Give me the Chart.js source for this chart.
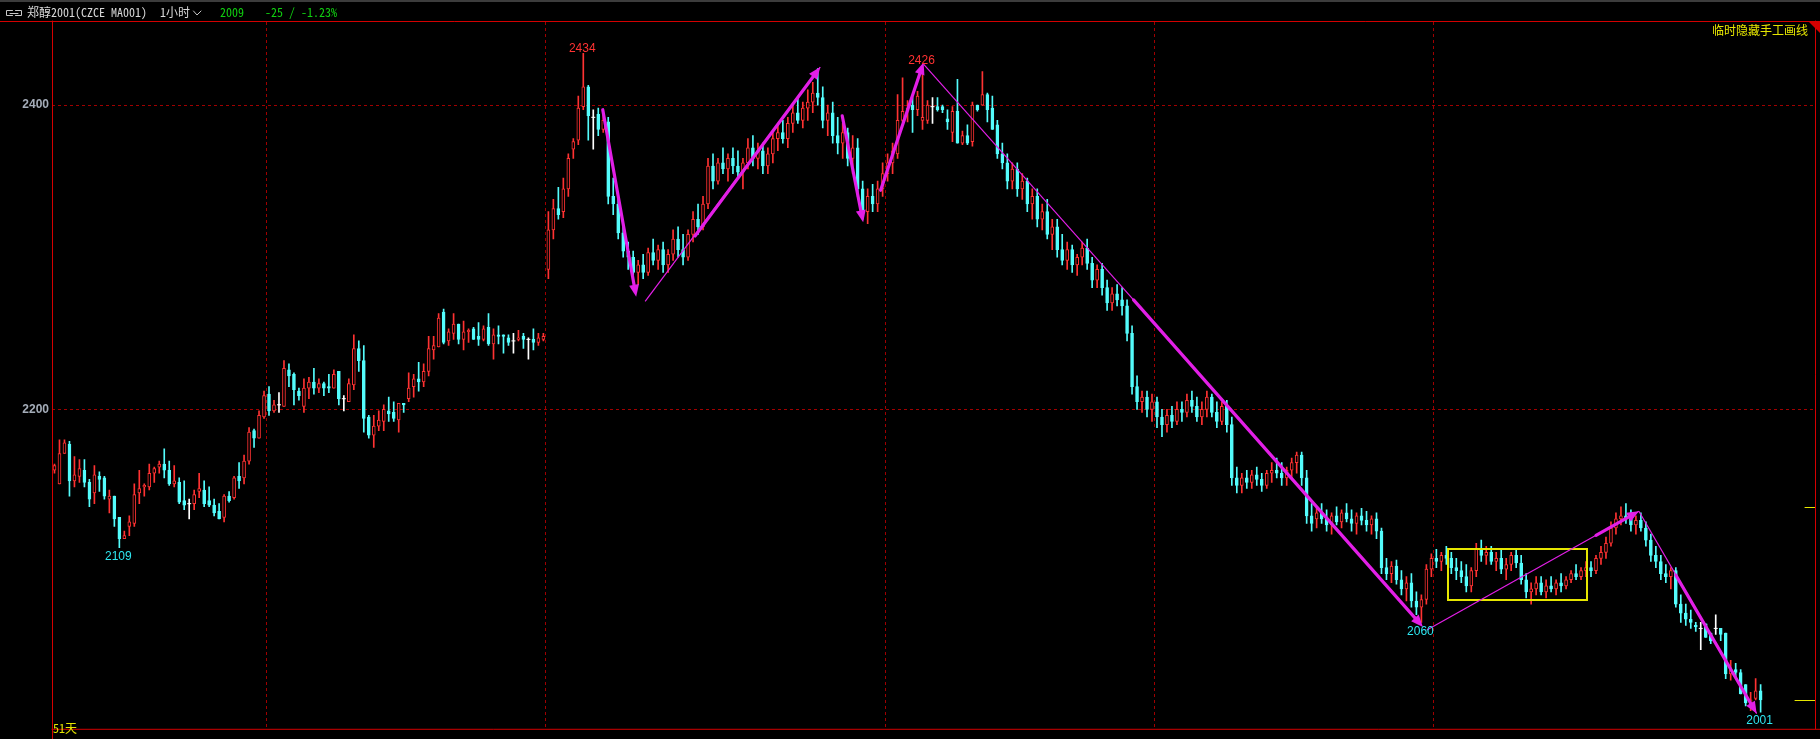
<!DOCTYPE html>
<html><head><meta charset="utf-8">
<script src="https://cdn.jsdelivr.net/npm/chart.js@4.4.0/dist/chart.umd.min.js"></script>
<style>html,body{margin:0;padding:0;background:#000;overflow:hidden}#wrap{position:relative;width:1820px;height:739px}</style>
</head><body><div id="wrap"><canvas id="c" width="1820" height="739"></canvas></div>
<script>
// ---------- data (hourly candles, CZCE MA001) ----------
const open = [
2160,2151,2171,2177,2153,2156,2160,2152,2145,2156, 2155,2141,2143,2129,2115,2123,2125,2145,2149,2149,
2158,2162,2164,2160,2151,2152,2140,2138,2138,2146, 2147,2140,2137,2133,2129,2143,2142,2156,2155,2166,
2186,2181,2195,2210,2199,2203,2202,2226,2223,2212, 2202,2214,2218,2214,2217,2215,2214,2225,2207,2205,
2216,2240,2232,2195,2183,2189,2192,2199,2198,2193, 2204,2207,2215,2220,2218,2225,2239,2241,2264,2245,
2250,2256,2246,2251,2253,2248,2246,2254,2243,2249, 2249,2247,2245,2246,2248,2246,2246,2244,2246,2292,
2318,2332,2330,2345,2371,2377,2399,2412,2392,2394, 2384,2389,2340,2335,2316,2304,2300,2290,2295,2290,
2303,2298,2305,2295,2302,2312,2305,2300,2315,2325, 2320,2335,2360,2350,2362,2358,2365,2360,2356,2362,
2372,2365,2370,2360,2368,2378,2382,2378,2388,2395, 2390,2398,2402,2408,2405,2390,2395,2380,2375,2382,
2365,2372,2345,2330,2340,2335,2345,2355,2362,2368, 2390,2396,2400,2397,2390,2390,2399,2399,2399,2391,
2382,2396,2375,2380,2376,2400,2400,2407,2398,2387, 2368,2362,2350,2358,2345,2350,2335,2340,2325,2330,
2315,2320,2305,2298,2305,2295,2300,2306,2296,2285, 2292,2280,2270,2276,2272,2268,2250,2215,2205,2208,
2200,2205,2195,2190,2196,2192,2200,2198,2206,2202, 2195,2200,2208,2198,2192,2202,2190,2155,2150,2155,
2152,2157,2154,2150,2158,2160,2158,2155,2160,2165, 2170,2155,2130,2128,2132,2128,2124,2130,2126,2132,
2128,2125,2130,2127,2124,2128,2120,2096,2092,2097, 2088,2082,2086,2074,2070,2075,2095,2102,2100,2104,
2102,2096,2094,2090,2084,2094,2108,2104,2106,2100, 2102,2095,2098,2104,2099,2088,2080,2082,2086,2080,
2084,2082,2086,2084,2088,2092,2090,2094,2096,2094, 2102,2106,2112,2122,2128,2130,2128,2124,2127,2122,
2114,2104,2100,2092,2090,2094,2072,2066,2062,2058, 2056,2059,2053,2056,2056,2053,2026,2029,2027,2019,
2005,2010,2015];
const high = [
2164,2180,2180,2179,2169,2167,2167,2154,2163,2159, 2156,2147,2143,2129,2120,2130,2151,2160,2151,2164,
2162,2166,2174,2166,2163,2155,2153,2141,2147,2158, 2153,2149,2141,2138,2144,2146,2156,2165,2170,2188,
2187,2199,2212,2215,2206,2211,2232,2230,2224,2214, 2220,2221,2227,2220,2218,2223,2226,2225,2209,2220,
2249,2245,2242,2196,2196,2199,2203,2208,2205,2204, 2204,2224,2223,2231,2230,2248,2248,2263,2266,2253,
2263,2256,2258,2253,2254,2257,2255,2263,2253,2255, 2249,2249,2250,2252,2250,2247,2253,2250,2250,2330,
2338,2346,2352,2368,2378,2406,2434,2413,2397,2398, 2394,2392,2352,2338,2322,2310,2304,2298,2302,2306,
2312,2308,2310,2305,2318,2320,2315,2318,2330,2335, 2340,2365,2368,2365,2372,2368,2372,2370,2365,2378,
2380,2375,2375,2372,2382,2388,2390,2392,2400,2405, 2402,2410,2415,2424,2412,2400,2402,2392,2388,2385,
2380,2378,2350,2345,2348,2350,2362,2368,2375,2407, 2418,2403,2405,2409,2426,2403,2405,2405,2400,2397,
2399,2417,2383,2387,2402,2400,2422,2408,2406,2390, 2375,2368,2362,2362,2355,2352,2345,2345,2335,2338,
2325,2325,2315,2310,2308,2302,2310,2312,2300,2295, 2296,2285,2280,2282,2280,2272,2255,2222,2212,2212,
2210,2208,2200,2200,2202,2205,2205,2210,2212,2208, 2205,2212,2210,2205,2205,2206,2195,2162,2158,2160,
2160,2162,2158,2160,2165,2168,2165,2162,2168,2172, 2172,2160,2138,2136,2138,2134,2132,2136,2134,2138,
2134,2132,2135,2133,2130,2132,2122,2102,2100,2101, 2094,2090,2092,2080,2078,2098,2105,2108,2106,2110,
2106,2102,2100,2098,2096,2112,2114,2110,2110,2106, 2108,2102,2106,2108,2104,2092,2086,2090,2090,2088,
2090,2088,2092,2090,2094,2098,2096,2100,2100,2104, 2110,2116,2126,2132,2136,2138,2134,2130,2132,2126,
2118,2110,2104,2098,2096,2096,2078,2072,2068,2060, 2060,2059,2053,2065,2056,2053,2035,2033,2029,2019,
2014,2023,2019];
const low = [
2158,2151,2171,2143,2149,2152,2149,2136,2138,2146, 2141,2132,2123,2109,2115,2117,2123,2138,2143,2147,
2152,2158,2155,2150,2149,2138,2134,2128,2134,2142, 2136,2136,2130,2128,2126,2139,2141,2148,2151,2164,
2175,2181,2194,2196,2198,2198,2202,2215,2203,2206, 2198,2207,2210,2211,2209,2211,2214,2203,2199,2205,
2213,2225,2185,2181,2175,2186,2186,2192,2192,2185, 2198,2205,2208,2212,2215,2222,2233,2241,2243,2242,
2246,2243,2239,2244,2246,2242,2245,2242,2233,2243, 2237,2242,2237,2245,2240,2233,2239,2242,2245,2286,
2312,2325,2326,2340,2365,2374,2397,2377,2371,2380, 2382,2335,2328,2312,2300,2292,2285,2282,2286,2288,
2295,2292,2290,2290,2298,2300,2295,2298,2310,2315, 2318,2332,2345,2348,2355,2350,2355,2352,2345,2358,
2360,2358,2355,2355,2362,2370,2375,2372,2382,2388, 2385,2390,2395,2400,2385,2380,2375,2368,2365,2360,
2355,2340,2325,2322,2330,2330,2340,2350,2355,2365, 2389,2389,2382,2393,2384,2388,2388,2396,2395,2384,
2376,2375,2374,2374,2373,2396,2400,2389,2384,2365, 2358,2345,2345,2340,2338,2330,2325,2320,2318,2312,
2305,2300,2295,2292,2290,2288,2295,2292,2280,2280, 2275,2265,2265,2268,2262,2245,2210,2200,2198,2195,
2192,2188,2182,2185,2188,2190,2192,2195,2198,2192, 2190,2195,2195,2188,2190,2185,2150,2145,2145,2148,
2148,2150,2146,2148,2152,2155,2150,2150,2155,2158, 2150,2125,2120,2122,2125,2120,2118,2124,2122,2126,
2120,2118,2124,2120,2118,2115,2092,2088,2086,2085, 2078,2074,2070,2065,2060,2072,2090,2096,2094,2098,
2092,2088,2086,2080,2080,2090,2100,2098,2098,2094, 2092,2088,2094,2096,2085,2076,2072,2078,2078,2076,
2080,2078,2080,2082,2086,2088,2088,2090,2090,2092, 2098,2102,2110,2118,2124,2125,2120,2118,2120,2110,
2100,2096,2088,2086,2082,2070,2060,2058,2056,2054, 2042,2050,2046,2052,2048,2023,2022,2024,2013,2005,
2002,2009,2001];
const close = [
2163,2171,2178,2153,2157,2161,2152,2141,2157,2154, 2143,2143,2128,2115,2117,2126,2144,2148,2150,2158,
2161,2164,2160,2151,2153,2139,2137,2138,2144,2148, 2138,2137,2132,2128,2143,2140,2155,2153,2166,2185,
2181,2196,2209,2199,2203,2203,2227,2222,2213,2209, 2214,2218,2214,2217,2214,2214,2223,2207,2207,2217,
2240,2232,2194,2183,2189,2193,2200,2197,2194,2204, 2203,2214,2220,2218,2225,2240,2242,2260,2244,2251,
2256,2246,2251,2252,2246,2246,2253,2243,2249,2248, 2248,2244,2245,2247,2246,2246,2244,2247,2248,2318,
2332,2328,2345,2365,2376,2398,2412,2393,2392,2384, 2390,2340,2335,2316,2304,2300,2290,2295,2290,2303,
2298,2305,2295,2302,2312,2305,2300,2315,2325,2320, 2335,2360,2350,2362,2358,2365,2360,2356,2362,2372,
2365,2370,2360,2368,2378,2382,2378,2388,2395,2390, 2398,2402,2408,2405,2390,2395,2380,2375,2382,2365,
2372,2345,2330,2340,2335,2345,2355,2362,2370,2390, 2396,2398,2397,2406,2392,2400,2399,2397,2397,2389,
2396,2375,2380,2375,2400,2397,2407,2397,2384,2368, 2362,2350,2358,2345,2350,2335,2340,2325,2330,2315,
2320,2305,2298,2305,2295,2300,2306,2296,2285,2292, 2280,2270,2276,2272,2268,2250,2215,2205,2208,2200,
2205,2195,2190,2196,2192,2200,2198,2206,2202,2195, 2200,2208,2198,2192,2202,2190,2155,2150,2155,2152,
2157,2154,2150,2158,2160,2158,2155,2160,2165,2170, 2155,2130,2125,2132,2128,2124,2130,2126,2132,2128,
2125,2130,2127,2124,2128,2120,2096,2092,2097,2088, 2082,2086,2074,2070,2075,2095,2102,2100,2104,2102,
2096,2094,2090,2084,2094,2108,2104,2106,2100,2102, 2095,2098,2104,2099,2088,2080,2082,2086,2080,2084,
2082,2086,2084,2088,2092,2090,2094,2096,2094,2102, 2106,2112,2122,2128,2130,2128,2124,2127,2122,2114,
2104,2100,2092,2090,2094,2072,2066,2062,2060,2057, 2056,2050,2048,2056,2052,2026,2029,2027,2013,2007,
2009,2015,2009];

const yTicks = [2200, 2400];
const periodStarts = [43, 99, 167, 221, 277];           // first candle of each period (dashed separators)
const highMarks = [106, 174];                            // candles whose high is labelled
const lowMarks = [13, 274, 342];                         // candles whose low is labelled
// hand-drawn lines: [fromIndex, fromPrice, toIndex, toPrice]
const thinLines = [[118.4, 2271, 153.5, 2425], [174.2, 2427, 216.3, 2272], [275.1, 2055, 317.6, 2133], [317.6, 2133, 341.2, 2000]];
const arrows = [[109.9, 2397, 116.6, 2274], [128.4, 2314, 153.5, 2425], [157.9, 2393, 162.1, 2323],
                [165.6, 2344, 174.2, 2428], [216.3, 2272, 274.3, 2057], [309, 2117.2, 317.6, 2133], [325, 2091, 341.2, 2000]];
const boxRange = [279.3, 2108.3, 307.2, 2075];          // [fromIndex, topPrice, toIndex, bottomPrice]
const rightMarks = [2136, 2009];
const titleText = '郑醇2001(CZCE MA001)';
const periodText = '1小时';
const lastText = '2009';
const changeText = '-25 / -1.23%';
const hideText = '临时隐藏手工画线';
const daysText = '51天';

// ---------- drawing ----------
const UP = '#ff3232', DOWN = '#54fcfc', FLAT = '#ffffff', MAG = '#e21fe6', YEL = '#e6e600', AXR = '#d40000', GRID = '#a00000';
const MONO = "'Noto Sans Mono CJK SC','Noto Sans CJK SC',monospace";
const N = close.length;
const idx = [...Array(N).keys()];
const colorOf = i => close[i] > open[i] ? UP : (close[i] < open[i] ? DOWN : FLAT);
const bodies = idx.filter(i => open[i] !== close[i]).map(i => ({x: i, y: [open[i], close[i]]}));
const wicks = idx.map(i => ({x: i, y: [low[i], high[i]]}));
const dojis = idx.filter(i => open[i] === close[i]).map(i => ({x: i, y: open[i]}));

const overlay = {
  id: 'overlay',
  afterDraw(chart) {
    const {ctx, scales: {x, y}, chartArea: a} = chart;
    const X = v => x.getPixelForValue(v), Y = v => y.getPixelForValue(v);
    ctx.save();
    // yellow box
    ctx.strokeStyle = YEL; ctx.lineWidth = 2;
    ctx.strokeRect(Math.round(X(boxRange[0])), Math.round(Y(boxRange[1])), Math.round(X(boxRange[2]) - X(boxRange[0])), Math.round(Y(boxRange[3]) - Y(boxRange[1])));
    // thin lines
    ctx.strokeStyle = MAG; ctx.lineWidth = 1.2;
    thinLines.forEach(([i1, p1, i2, p2]) => { ctx.beginPath(); ctx.moveTo(X(i1), Y(p1)); ctx.lineTo(X(i2), Y(p2)); ctx.stroke(); });
    // arrows
    ctx.fillStyle = MAG; ctx.lineWidth = 3.2; ctx.lineCap = 'round';
    arrows.forEach(([i1, p1, i2, p2]) => {
      const x1 = X(i1), y1 = Y(p1), x2 = X(i2), y2 = Y(p2);
      const ang = Math.atan2(y2 - y1, x2 - x1), L = 12, W = 5;
      const bx = x2 - L * Math.cos(ang), by = y2 - L * Math.sin(ang);
      ctx.beginPath(); ctx.moveTo(x1, y1); ctx.lineTo(bx, by); ctx.stroke();
      ctx.beginPath(); ctx.moveTo(x2, y2);
      ctx.lineTo(bx + W * Math.sin(ang), by - W * Math.cos(ang));
      ctx.lineTo(bx - W * Math.sin(ang), by + W * Math.cos(ang));
      ctx.closePath(); ctx.fill();
    });
    // extreme labels
    ctx.font = "12px 'Liberation Sans',Arial,sans-serif"; ctx.textAlign = 'center';
    ctx.fillStyle = UP; ctx.textBaseline = 'bottom';
    highMarks.forEach(i => ctx.fillText(String(high[i]), X(i) - 1, Y(high[i]) + 1));
    ctx.fillStyle = '#2ee6f0'; ctx.textBaseline = 'top';
    lowMarks.forEach(i => ctx.fillText(String(low[i]), X(i) - 1, Y(low[i]) + 3));
    // right-edge price markers
    ctx.strokeStyle = YEL; ctx.lineWidth = 1;
    rightMarks.forEach((p, k) => { const yy = Math.round(Y(p)) + 0.5; ctx.beginPath(); ctx.moveTo(a.right - (k === 0 ? 10 : 20), yy); ctx.lineTo(a.right, yy); ctx.stroke(); });
    // frame
    ctx.strokeStyle = AXR; ctx.lineWidth = 1;
    ctx.beginPath();
    ctx.moveTo(0, 21.5); ctx.lineTo(1820, 21.5);
    ctx.moveTo(a.left + 0.5, 21); ctx.lineTo(a.left + 0.5, 739);
    ctx.moveTo(a.left, a.bottom + 0.5); ctx.lineTo(1820, a.bottom + 0.5);
    ctx.moveTo(a.right + 0.5, 21); ctx.lineTo(a.right + 0.5, a.bottom);
    ctx.stroke();
    ctx.fillStyle = AXR; ctx.beginPath(); ctx.moveTo(1809, 22); ctx.lineTo(1820, 22); ctx.lineTo(1820, 33); ctx.closePath(); ctx.fill();
    // header
    ctx.fillStyle = '#3c3c3c'; ctx.fillRect(0, 0, 1820, 2);
    ctx.strokeStyle = '#c8c8c8'; ctx.lineWidth = 1;
    ctx.beginPath();
    ctx.moveTo(12.5, 10.5); ctx.lineTo(6.5, 10.5); ctx.lineTo(6.5, 15.5); ctx.lineTo(12.5, 15.5);
    ctx.moveTo(15.5, 10.5); ctx.lineTo(21.5, 10.5); ctx.lineTo(21.5, 15.5); ctx.lineTo(15.5, 15.5);
    ctx.moveTo(10, 13.5); ctx.lineTo(18, 13.5);
    ctx.moveTo(193.5, 11); ctx.lineTo(197, 15); ctx.lineTo(201, 11);
    ctx.stroke();
    ctx.font = '12px ' + MONO; ctx.textAlign = 'left'; ctx.textBaseline = 'alphabetic';
    ctx.fillStyle = '#d8d8d8';
    ctx.fillText(titleText, 27, 17);
    ctx.fillText(periodText, 160, 17);
    ctx.fillStyle = '#10d010';
    ctx.fillText(lastText, 220, 17);
    ctx.fillText(changeText, 265, 17);
    ctx.fillStyle = YEL;
    ctx.textAlign = 'right'; ctx.fillText(hideText, 1808, 35);
    ctx.textAlign = 'left'; ctx.fillText(daysText, 53, 733);
    ctx.restore();
  }
};

new Chart(document.getElementById('c'), {
  type: 'bar',
  data: {
    datasets: [
      { data: bodies, grouped: false, order: 0, barThickness: 3, borderWidth: 1, borderSkipped: false,
        backgroundColor: c => (c.raw && c.raw.y[1] > c.raw.y[0]) ? '#000000' : DOWN,
        borderColor: c => (c.raw && c.raw.y[1] > c.raw.y[0]) ? UP : DOWN },
      { data: wicks, grouped: false, order: 1, barThickness: 1, borderWidth: 0,
        backgroundColor: c => colorOf(c.raw ? c.raw.x : 0) },
      { type: 'scatter', data: dojis, order: -1, pointStyle: 'line', pointRadius: 2, borderColor: FLAT, borderWidth: 1, backgroundColor: FLAT }
    ]
  },
  options: {
    responsive: false, animation: false, devicePixelRatio: 1, events: [],
    layout: { padding: { left: 0, right: 1, top: 22, bottom: 3 } },
    plugins: { legend: { display: false }, tooltip: { enabled: false } },
    scales: {
      x: { type: 'linear', min: -0.5, max: 352.9, offset: false,
           afterBuildTicks: s => { s.ticks = periodStarts.map(v => ({ value: v - 0.5 })); },
           afterFit: s => { s.height = 0; },
           ticks: { display: false }, grid: { offset: false, color: GRID, drawTicks: false, lineWidth: 1 }, border: { display: false, dash: [3, 3] } },
      y: { min: 1990, max: 2454.66,
           afterBuildTicks: s => { s.ticks = yTicks.map(v => ({ value: v })); },
           afterFit: s => { s.width = 52; },
           ticks: { color: '#a4acb8', padding: 3, font: { size: 12, weight: 'bold', family: "'Liberation Sans',Arial,sans-serif" }, callback: v => String(v) },
           grid: { color: GRID, drawTicks: false, lineWidth: 1 }, border: { display: false, dash: [3, 3] } }
    }
  },
  plugins: [overlay]
});
</script></body></html>
